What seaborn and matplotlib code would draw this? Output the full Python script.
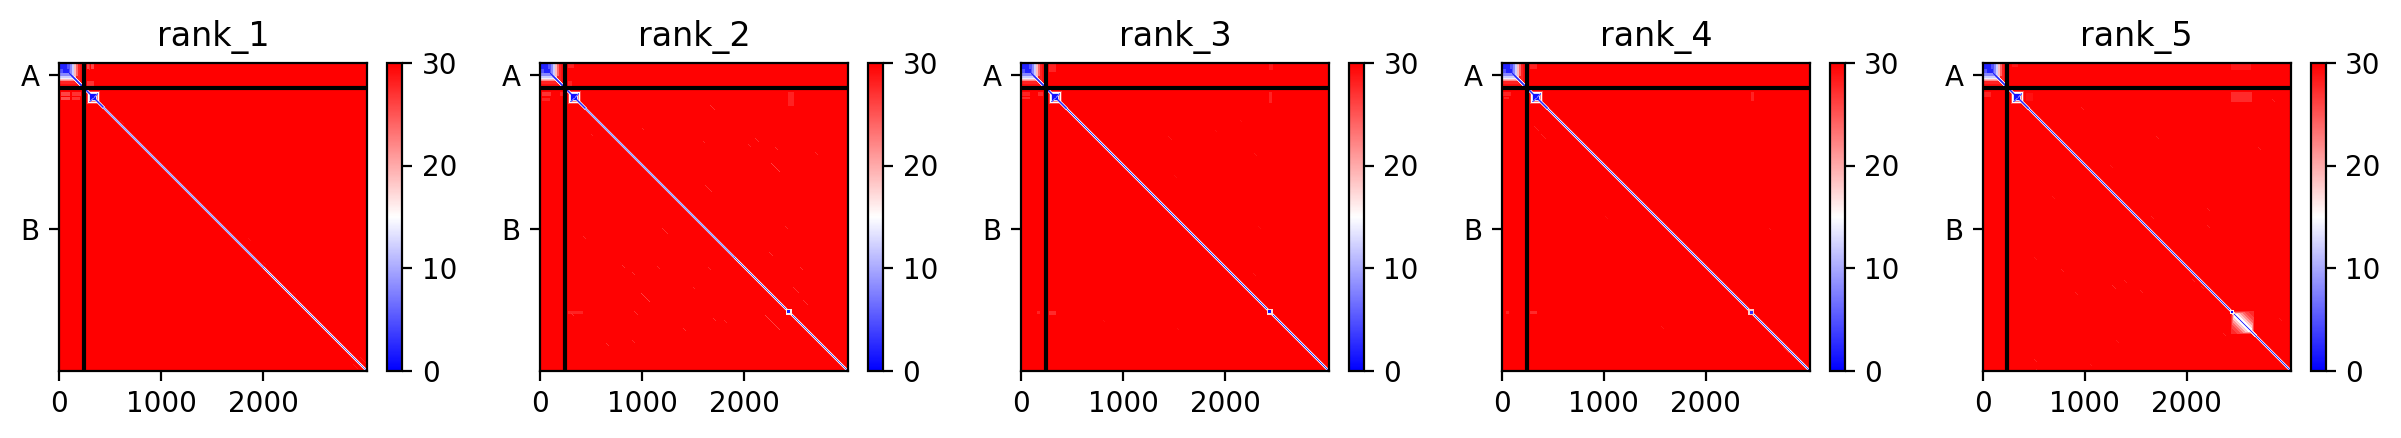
import numpy as np
import matplotlib
matplotlib.use("Agg")
import matplotlib.pyplot as plt
import seaborn as sns

# ---- data (all coordinates are residue indices, values are PAE) ----
RANK_NAMES = ["rank_1", "rank_2", "rank_3", "rank_4", "rank_5"]
CHAIN_NAMES = ["A", "B"]
CHAIN_LENGTHS = [242, 2778]
X_TICKS = [0, 1000, 2000]
CBAR_TICKS = [0, 10, 20, 30]
BACKGROUND = [30.0, 29.8, 30.0, 30.0, 29.8]
GRID = 308

# rectangles: row0, row1, col0, col1, value
DOMAIN_A = [
    (0, 225, 0, 225, 29), (0, 205, 0, 205, 28), (130, 175, 0, 150, 22), (0, 130, 130, 190, 24),
    (0, 165, 0, 165, 19), (130, 152, 0, 125, 14), (0, 145, 0, 145, 12), (0, 125, 0, 125, 8),
    (0, 95, 0, 110, 5), (0, 60, 10, 75, 2), (60, 100, 40, 100, 2),
]
DOMAIN_B = [
    (272, 402, 272, 402, 26), (280, 394, 280, 394, 15), (290, 384, 290, 384, 22),
    (298, 376, 298, 376, 13), (308, 366, 308, 366, 1),
]
CROSS_1 = [
    (0, 60, 270, 290, 26), (0, 60, 310, 340, 26), (0, 70, 295, 305, 27.5), (180, 230, 270, 340, 27),
    (285, 320, 20, 110, 26), (285, 320, 130, 215, 27), (335, 360, 20, 110, 25.5), (335, 360, 130, 210, 27),
]
CROSS_2 = [
    (0, 50, 270, 330, 28), (180, 225, 270, 310, 28), (285, 320, 15, 110, 27), (340, 370, 20, 100, 28),
    (285, 320, 200, 225, 28), (280, 420, 2430, 2490, 28), (2430, 2460, 270, 420, 28),
]
CROSS_3 = [
    (0, 90, 270, 340, 28), (0, 70, 2430, 2470, 28.5), (285, 320, 10, 90, 28), (285, 320, 170, 215, 27.5),
    (330, 350, 10, 90, 27.5), (285, 390, 2430, 2465, 28), (2430, 2470, 270, 340, 27.5), (2430, 2460, 160, 190, 28),
]
CROSS_4 = [
    (0, 60, 270, 340, 28), (285, 320, 10, 90, 28), (330, 350, 20, 70, 28), (280, 370, 2445, 2475, 28),
    (2430, 2465, 270, 340, 27.5), (2430, 2460, 40, 70, 28),
]
CROSS_5 = [
    (0, 40, 280, 340, 28.5), (0, 70, 2430, 2630, 28.5), (285, 330, 10, 80, 28), (280, 380, 2430, 2640, 27.5),
    (290, 370, 420, 490, 29),
]
CROSS_BY_RANK = [CROSS_1, CROSS_2, CROSS_3, CROSS_4, CROSS_5]

# diagonal segments: start, end, centre value, flank value, outer value
DIAG_1 = [(242, 430, 2, 8, 20), (430, 2000, 9, 11, 27.5), (2000, 3020, 6, 16, 27)]
DIAG_2 = [(242, 440, 2, 8, 20), (440, 1900, 9, 11, 27.5), (1900, 3020, 5, 16, 27)]
DIAG_3 = [(242, 440, 2, 8, 20), (440, 3020, 3, 14, 26)]
DIAG_4 = [(242, 440, 2, 8, 20), (440, 3020, 4, 14, 26)]
DIAG_5 = [(242, 440, 2, 8, 20), (440, 3020, 3, 13, 26)]
DIAG_BY_RANK = [DIAG_1, DIAG_2, DIAG_3, DIAG_4, DIAG_5]
DIAG_A = [(95, 232, 2, 6, 16)]

# small domains on the diagonal: start, end, rim value, core value
SPOTS_BY_RANK = [
    [],
    [(2410, 2470, 16, 2)],
    [(2410, 2470, 17, 1)],
    [(2415, 2470, 18, 3)],
    [(2420, 2460, 16, 1)],
]
# pale domain of rank_5: start, end, half width around the diagonal, value
RANK5_BANDS = [
    (2435, 2660, 230, 27.5), (2445, 2655, 160, 26), (2445, 2650, 120, 24),
    (2450, 2645, 90, 21), (2455, 2640, 60, 18), (2460, 2635, 30, 15),
]
# pale stripes parallel to the diagonal: row, column, length, value
STREAKS_1 = [(560, 600, 35, 28.5), (1720, 1850, 30, 29), (1950, 2000, 25, 29), (2250, 2290, 25, 29), (2880, 2950, 60, 28.5), (2950, 2880, 50, 28.5)]
STREAKS_2 = [
    (984, 2263, 90, 26), (2260, 988, 90, 26), (1197, 1620, 65, 27), (2472, 2207, 150, 26), (412, 1668, 45, 27),
    (1622, 1194, 55, 27), (2194, 2485, 60, 27), (2325, 2583, 45, 27), (739, 2109, 35, 27), (790, 2040, 30, 27.5),
    (1980, 800, 25, 27), (2050, 900, 30, 27), (1990, 1150, 25, 27.5), (2000, 1650, 30, 27.5), (1850, 2250, 35, 27),
    (2000, 2550, 30, 27), (2500, 1700, 30, 27), (2520, 1800, 30, 27.5), (2600, 1400, 30, 27), (2750, 650, 30, 27),
    (2720, 900, 25, 27.5), (760, 1600, 20, 27.5), (640, 1000, 20, 27.5), (820, 2300, 25, 27), (870, 2700, 25, 27.5),
    (2430, 920, 40, 27), (2200, 1500, 20, 27.5), (1600, 2400, 25, 27.5), (1400, 1400, 20, 27.5),
    (700, 500, 20, 28), (1700, 420, 30, 27.5), (2450, 300, 25, 27),
]
STREAKS_3 = [
    (720, 1440, 40, 28.5), (1100, 1500, 25, 29), (880, 2280, 30, 28.5), (660, 1900, 20, 29), (1600, 2320, 25, 29),
    (2060, 2270, 25, 28.5), (2600, 1530, 20, 29), (1200, 1220, 25, 29), (2520, 800, 20, 29), (560, 2150, 20, 29),
]
STREAKS_4 = [
    (620, 310, 50, 28), (700, 380, 50, 28), (1500, 1010, 25, 29), (1620, 2620, 20, 28.5), (2580, 1560, 25, 28.5),
    (2780, 2760, 60, 28), (2380, 2380, 40, 28),
]
STREAKS_5 = [
    (430, 960, 25, 28), (720, 1700, 30, 28), (1000, 1250, 25, 28.5), (1300, 680, 25, 28.5), (1420, 2200, 25, 28),
    (1590, 2200, 30, 28), (1500, 1650, 30, 28), (2020, 760, 25, 28), (2180, 1260, 35, 27.5), (2120, 2050, 30, 28),
    (2250, 900, 30, 28), (2130, 1380, 30, 28), (2230, 1540, 25, 28), (2190, 2140, 30, 28), (2900, 500, 30, 28),
    (2720, 1300, 25, 28.5), (2650, 2350, 25, 28), (820, 2700, 30, 28), (2500, 2900, 25, 28.5), (350, 2830, 30, 28),
    (1900, 500, 25, 28.5), (3000, 520, 30, 28), (2950, 1050, 20, 28.5),
]
STREAKS_BY_RANK = [STREAKS_1, STREAKS_2, STREAKS_3, STREAKS_4, STREAKS_5]

TOTAL = sum(CHAIN_LENGTHS)
CELL = TOTAL / GRID


def cell(res):
    return int(round(res / CELL))


def paint_rects(m, rects):
    for r0, r1, c0, c1, v in rects:
        m[cell(r0):cell(r1), cell(c0):cell(c1)] = v


def paint_diagonal(m, segments):
    for start, end, centre, flank, outer in segments:
        for k in range(cell(start), min(cell(end), GRID)):
            for off, v in ((2, outer), (1, flank), (0, centre)):
                for a, b in ((k, k + off), (k + off, k)):
                    if a < GRID and b < GRID:
                        m[a, b] = min(m[a, b], v)


def paint_antidiagonal(m, centre, half, value):
    c = cell(centre)
    for k in range(cell(half)):
        for d in (0, 1):
            m[c + k, c - k + d] = value
            m[c - k + d, c + k] = value


def build_matrix(idx):
    m = np.full((GRID, GRID), BACKGROUND[idx], dtype=float)
    paint_rects(m, CROSS_BY_RANK[idx])
    for r, c, length, v in STREAKS_BY_RANK[idx]:
        for k in range(max(cell(length), 1)):
            if cell(r) + k < GRID and cell(c) + k < GRID:
                m[cell(r) + k, cell(c) + k] = v
    paint_rects(m, DOMAIN_A)
    paint_rects(m, DOMAIN_B)
    paint_antidiagonal(m, 336, 50, 6)
    paint_diagonal(m, DIAG_A)
    paint_diagonal(m, DIAG_BY_RANK[idx])
    if idx == 4:
        for start, end, half, v in RANK5_BANDS:
            for a in range(cell(start), cell(end)):
                for b in range(cell(start), cell(end)):
                    if abs(a - b) * CELL <= half:
                        m[a, b] = min(m[a, b], v)
        paint_diagonal(m, [(2430, 2670, 5, 14, 18)])
    for start, end, rim, core in SPOTS_BY_RANK[idx]:
        pad = (end - start) // 4
        paint_rects(m, [(start, end, start, end, rim), (start + pad, end - pad, start + pad, end - pad, core)])
    return m


DPI = 200
W, H = 2401.0, 438.0
fig = plt.figure(figsize=(W / DPI, H / DPI), dpi=DPI)
for idx, name in enumerate(RANK_NAMES):
    x0 = 59.2 + 480.9 * idx
    ax = fig.add_axes([x0 / W, 1 - 370.5 / H, 308 / W, 307.5 / H])
    cax = fig.add_axes([(x0 + 328) / W, 1 - 370.5 / H, 15 / W, 307.5 / H])
    sns.heatmap(build_matrix(idx), ax=ax, cbar_ax=cax, cmap="bwr", vmin=0, vmax=30,
                xticklabels=False, yticklabels=False, square=False,
                cbar_kws={"ticks": CBAR_TICKS})
    ax.set_aspect("auto")
    for s in ax.spines.values():
        s.set_visible(True)
        s.set_linewidth(0.8)
        s.set_color("black")
    cb = ax.collections[0].colorbar
    cb.outline.set_visible(True)
    cb.outline.set_linewidth(0.8)
    cb.outline.set_edgecolor("black")
    cb.ax.tick_params(labelsize=10, length=3.5, width=0.8)

    ax.set_xticks([t / CELL for t in X_TICKS])
    ax.set_xticklabels([str(t) for t in X_TICKS], rotation=0)
    mids = []
    pos = 0
    for length in CHAIN_LENGTHS:
        mids.append((pos + pos + length) / 2 / CELL)
        pos += length
    ax.set_yticks(mids)
    ax.set_yticklabels(CHAIN_NAMES, rotation=0, va="center_baseline")
    ax.tick_params(labelsize=10, length=3.5, width=0.8, bottom=True, left=True)

    brk = CHAIN_LENGTHS[0] / CELL
    ax.axhline(brk, color="black", lw=1.5)
    ax.axvline(brk, color="black", lw=1.5)
    ax.set_title(name, fontsize=12)

fig.savefig("out.png", dpi=DPI)
